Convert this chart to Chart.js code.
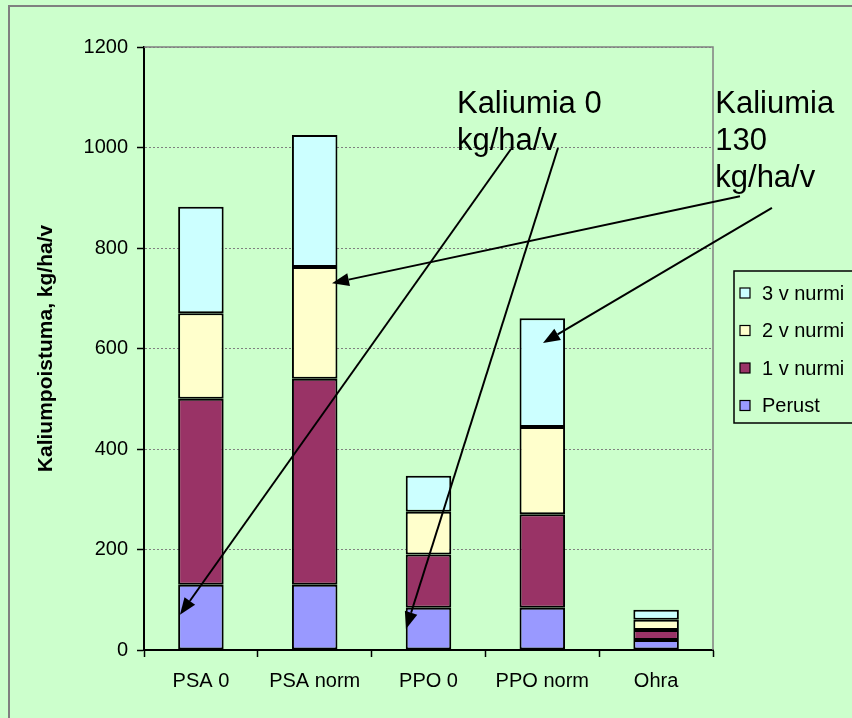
<!DOCTYPE html>
<html>
<head>
<meta charset="utf-8">
<script src="https://cdn.jsdelivr.net/npm/chart.js@4/dist/chart.umd.min.js"></script>
<style>
  html, body { margin: 0; padding: 0; background: #CCFFCC; }
  #wrap { width: 852px; height: 718px; }
</style>
</head>
<body>
<div id="wrap"><canvas id="c" width="852" height="718"></canvas></div>
<script>
// Potassium removal by treatment, stacked by ley year
const categories = ['PSA 0', 'PSA norm', 'PPO 0', 'PPO norm', 'Ohra'];
const perust = [130, 130, 84, 84, 20];
const nurmi1 = [370, 410, 106, 186, 20];
const nurmi2 = [170, 222, 85, 174, 20];
const nurmi3 = [212, 263, 72, 216, 20];
const yTicks = [0, 200, 400, 600, 800, 1000, 1200];

const FONT = "'Liberation Sans', Arial, sans-serif";

// Callout texts and arrows, positioned in category-index / value space
const callouts = [
  { lines: ['Kaliumia 0', 'kg/ha/v'], x: 2.25, y: 1069 },
  { lines: ['Kaliumia', '130', 'kg/ha/v'], x: 4.52, y: 1069 }
];
const arrows = [
  { from: [2.725, 997], to: [-0.184, 70] },
  { from: [3.138, 999], to: [1.802, 42] },
  { from: [4.737, 903], to: [1.152, 730] },
  { from: [5.018, 880], to: [3.006, 611] }
];

const decor = {
  id: 'decor',
  beforeDraw(chart) {
    const ctx = chart.ctx;
    ctx.save();
    ctx.fillStyle = '#CCFFCC';
    ctx.fillRect(0, 0, chart.width, chart.height);
    ctx.restore();
  },
  afterDraw(chart) {
    const ctx = chart.ctx;
    const a = chart.chartArea;
    const xs = chart.scales.x, ys = chart.scales.y;
    ctx.save();
    // outer frame
    ctx.strokeStyle = '#808080';
    ctx.lineWidth = 2;
    ctx.beginPath();
    ctx.moveTo(9, chart.height + 5);
    ctx.lineTo(9, 6);
    ctx.lineTo(chart.width + 5, 6);
    ctx.stroke();
    // plot area top and right edges
    ctx.lineWidth = 1.5;
    ctx.beginPath();
    ctx.moveTo(a.left, a.top);
    ctx.lineTo(a.right, a.top);
    ctx.lineTo(a.right, a.bottom);
    ctx.stroke();

    // arrows
    ctx.strokeStyle = '#000';
    ctx.fillStyle = '#000';
    arrows.forEach(ar => {
      const x1 = xs.getPixelForValue(ar.from[0]), y1 = ys.getPixelForValue(ar.from[1]);
      const x2 = xs.getPixelForValue(ar.to[0]), y2 = ys.getPixelForValue(ar.to[1]);
      const ang = Math.atan2(y2 - y1, x2 - x1);
      const len = 17, half = 6.5;
      const bx = x2 - len * Math.cos(ang), by = y2 - len * Math.sin(ang);
      ctx.lineWidth = 2;
      ctx.beginPath();
      ctx.moveTo(x1, y1);
      ctx.lineTo(bx, by);
      ctx.stroke();
      ctx.beginPath();
      ctx.moveTo(x2, y2);
      ctx.lineTo(bx + half * Math.sin(ang), by - half * Math.cos(ang));
      ctx.lineTo(bx - half * Math.sin(ang), by + half * Math.cos(ang));
      ctx.closePath();
      ctx.fill();
    });

    // callout texts
    ctx.font = '31px ' + FONT;
    ctx.textBaseline = 'alphabetic';
    ctx.textAlign = 'left';
    callouts.forEach(c => {
      const x = xs.getPixelForValue(c.x), y = ys.getPixelForValue(c.y);
      c.lines.forEach((t, i) => ctx.fillText(t, x, y + i * 37));
    });

    // legend, top series first
    const lx = 734, ly = 271, lh = 152;
    ctx.fillStyle = '#CCFFCC';
    ctx.fillRect(lx, ly, chart.width - lx + 10, lh);
    ctx.strokeStyle = '#000';
    ctx.lineWidth = 1.5;
    ctx.strokeRect(lx, ly, chart.width - lx + 10, lh);
    const ds = chart.data.datasets.slice().reverse();
    ctx.font = '20px ' + FONT;
    ctx.textBaseline = 'middle';
    ds.forEach((d, i) => {
      const cy = ly + 22 + i * 37.5;
      ctx.fillStyle = d.backgroundColor;
      ctx.fillRect(740, cy - 5, 10, 10);
      ctx.strokeStyle = '#000';
      ctx.lineWidth = 1.2;
      ctx.strokeRect(740, cy - 5, 10, 10);
      ctx.fillStyle = '#000';
      ctx.fillText(d.label, 762, cy + 1);
    });
    ctx.restore();
  }
};

const barStyle = { borderColor: '#000', borderWidth: 2, borderSkipped: false,
                   barPercentage: 0.4, categoryPercentage: 1.0 };

new Chart(document.getElementById('c'), {
  type: 'bar',
  data: {
    labels: categories,
    datasets: [
      Object.assign({ label: 'Perust', data: perust, backgroundColor: '#9999FF' }, barStyle),
      Object.assign({ label: '1 v nurmi', data: nurmi1, backgroundColor: '#993366' }, barStyle),
      Object.assign({ label: '2 v nurmi', data: nurmi2, backgroundColor: '#FFFFCC' }, barStyle),
      Object.assign({ label: '3 v nurmi', data: nurmi3, backgroundColor: '#CCFFFF' }, barStyle)
    ]
  },
  options: {
    responsive: false,
    animation: false,
    layout: { padding: { left: 0, right: 139, top: 47, bottom: 0 } },
    plugins: { legend: { display: false }, tooltip: { enabled: false } },
    scales: {
      x: {
        stacked: true,
        afterFit(s) { s.height = 68; },
        grid: { drawOnChartArea: false, offset: true, tickLength: 7, tickColor: '#000', tickWidth: 1.5 },
        border: { color: '#000', width: 2 },
        ticks: { color: '#000', font: { family: FONT, size: 20 }, padding: 12, maxRotation: 0 }
      },
      y: {
        stacked: true,
        min: 0, max: 1200,
        afterFit(s) { s.width = 144; },
        afterBuildTicks(s) { s.ticks = yTicks.map(v => ({ value: v })); },
        grid: { color: '#808080', lineWidth: 1, tickLength: 7, tickColor: '#000', tickWidth: 1.5 },
        border: { color: '#000', width: 2, dash: [2, 2] },
        ticks: { color: '#000', font: { family: FONT, size: 20 }, padding: 9,
                 callback: v => String(v) },
        title: { display: true, text: 'Kaliumpoistuma, kg/ha/v', color: '#000',
                 font: { family: FONT, size: 21, weight: 'bold' }, padding: { top: 34, bottom: 0 } }
      }
    }
  },
  plugins: [decor]
});
</script>
</body>
</html>
